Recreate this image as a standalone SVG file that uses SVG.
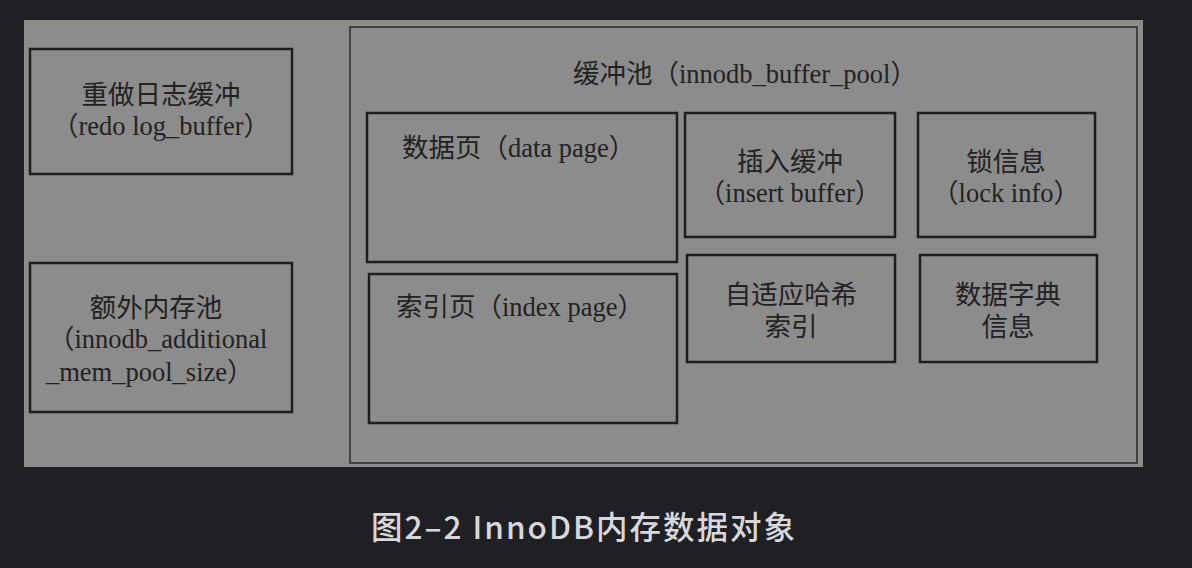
<svg xmlns="http://www.w3.org/2000/svg" width="1192" height="568" viewBox="0 0 1192 568">
<style>
.box{fill:none;stroke:#1e1e1e;stroke-width:2.5}
.outer{fill:none;stroke:#2a2a2a;stroke-width:1.5}
.t{font-family:"Liberation Serif","Noto Sans CJK SC",serif;font-size:26.5px;fill:#222}
.c{text-anchor:middle}
.cap{font-family:"Noto Sans CJK SC","Noto Sans",sans-serif;font-size:31.5px;font-weight:500;fill:#d8d8dc;text-anchor:middle;letter-spacing:2px}
</style>
<rect x="0" y="0" width="1192" height="568" fill="#1f2023"/>
<rect x="24" y="20" width="1119" height="447" fill="#8c8c8c"/>
<g id="redo-log-buffer">
<rect class="box" x="30" y="49" width="262" height="125"/>
<text class="t c" x="161" y="104">重做日志缓冲</text>
<text class="t c" x="161" y="135">（redo log_buffer）</text>
</g>
<g id="additional-mem-pool">
<rect class="box" x="30" y="263" width="262" height="149"/>
<text class="t c" x="156" y="317">额外内存池</text>
<text class="t" x="48" y="348">（innodb_additional</text>
<text class="t" x="46" y="381">_mem_pool_size）</text>
</g>
<g id="buffer-pool">
<rect class="outer" x="350" y="27" width="787" height="436"/>
<text class="t c" x="745" y="83">缓冲池（innodb_buffer_pool）</text>
</g>
<g id="data-page">
<rect class="box" x="367" y="113" width="310" height="149"/>
<text class="t" x="402" y="157">数据页（data page）</text>
</g>
<g id="index-page">
<rect class="box" x="369" y="274" width="308" height="149"/>
<text class="t" x="396" y="316">索引页（index page）</text>
</g>
<g id="insert-buffer">
<rect class="box" x="685" y="113" width="210" height="124"/>
<text class="t c" x="790" y="171">插入缓冲</text>
<text class="t c" x="790" y="202">（insert buffer）</text>
</g>
<g id="lock-info">
<rect class="box" x="918" y="113" width="177" height="124"/>
<text class="t c" x="1006" y="171">锁信息</text>
<text class="t c" x="1006" y="202">（lock info）</text>
</g>
<g id="adaptive-hash-index">
<rect class="box" x="687" y="255" width="208" height="107"/>
<text class="t c" x="791" y="304">自适应哈希</text>
<text class="t c" x="791" y="336">索引</text>
</g>
<g id="data-dictionary">
<rect class="box" x="920" y="255" width="177" height="107"/>
<text class="t c" x="1008" y="304">数据字典</text>
<text class="t c" x="1008" y="336">信息</text>
</g>
<g id="connectors"></g>
<text class="cap" x="584" y="539">图2–2 InnoDB内存数据对象</text>
</svg>
